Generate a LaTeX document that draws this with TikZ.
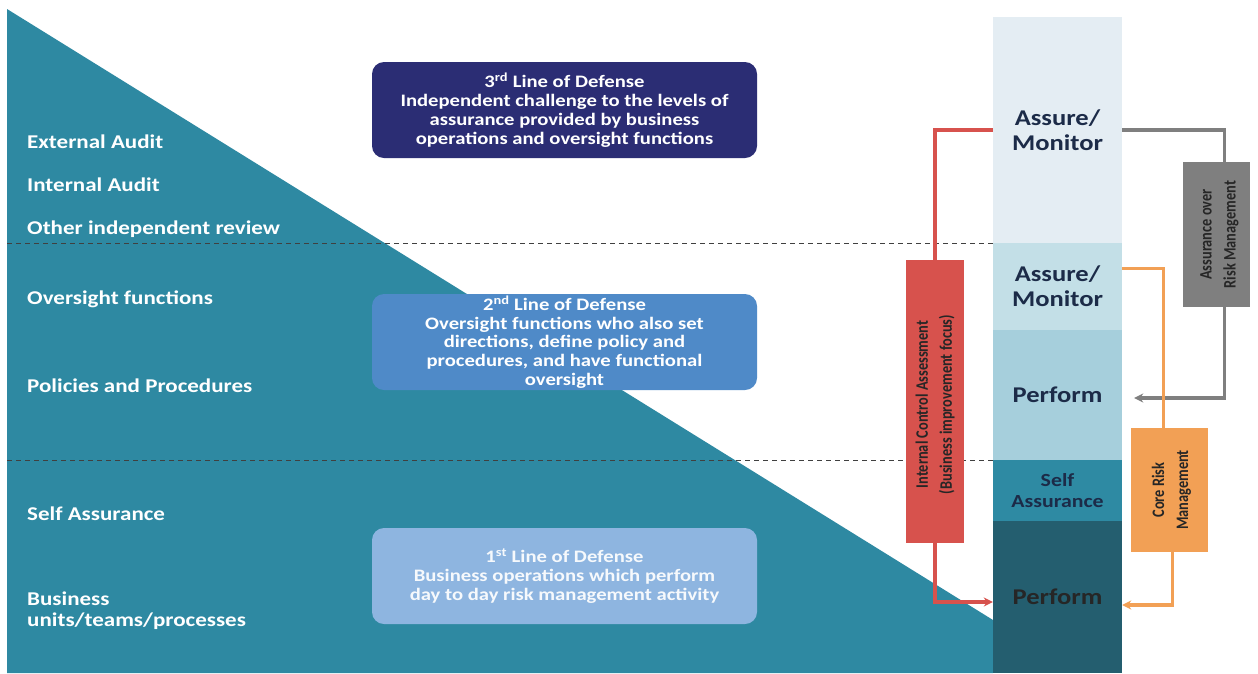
\documentclass[tikz,border=0pt]{standalone}
\usepackage{fontspec}
\setmainfont{Carlito}[FakeStretch=1.18]
\newfontfamily\rotfont{Carlito}[FakeStretch=0.82]
\usetikzlibrary{arrows.meta}
\definecolor{triC}{HTML}{2E89A2}
\definecolor{navyC}{HTML}{2B2D74}
\definecolor{midC}{HTML}{4F8AC8}
\definecolor{lightC}{HTML}{8EB5E0}
\definecolor{colA}{HTML}{E4EDF3}
\definecolor{colB}{HTML}{C3DFE7}
\definecolor{colC}{HTML}{A6CFDC}
\definecolor{colD}{HTML}{2E8AA3}
\definecolor{colE}{HTML}{245E6F}
\definecolor{colText}{HTML}{1C2B48}
\definecolor{redC}{HTML}{D7524D}
\definecolor{grayC}{HTML}{7F7F7F}
\definecolor{orgC}{HTML}{F2A055}
\tikzset{
  seg/.style={minimum width=129pt, inner sep=0pt, align=center, text=colText,
    font=\bfseries\fontsize{22.5}{25}\selectfont},
  ldbox/.style={minimum width=385pt, minimum height=96pt, rounded corners=12pt,
    align=center, text=white, inner sep=0pt, font=\bfseries\fontsize{17.5}{18.8}\selectfont},
  lefttxt/.style={anchor=west, text=white, align=left, inner sep=0pt,
    font=\bfseries\fontsize{19.5}{21}\selectfont},
  dashln/.style={draw=black!75, dash pattern=on 5pt off 4pt, line width=1pt},
  sidebox/.style={inner sep=0pt, draw=none},
  rottxt/.style={rotate=90, align=center, inner sep=0pt, text=black!85,
    font=\rotfont\bfseries\fontsize{17.5}{24}\selectfont},
  conn/.style={line width=3.2pt},
  tip/.style={-{Stealth[length=9pt,width=9pt]}}
}
\begin{document}
\begin{tikzpicture}[x=1pt,y=-1pt]
\useasboundingbox (0,0) rectangle (1258,673);
\fill[white] (0,0) rectangle (1258,673);
% triangle
\fill[triC] (7,9) -- (993,620) -- (993,673) -- (7,673) -- cycle;
% dashed separators
\coordinate (d1a) at (7,243);
\coordinate (d1b) at (993,243);
\coordinate (d2a) at (7,460);
\coordinate (d2b) at (993,460);
\draw[dashln] (d1a) -- (d1b);
\draw[dashln] (d2a) -- (d2b);
% left labels
\node[lefttxt] (la1) at (27,142) {External Audit};
\node[lefttxt] (la2) at (27,185) {Internal Audit};
\node[lefttxt] (la3) at (27,229) {Other independent review};
\node[lefttxt] (la4) at (27,299) {Oversight functions};
\node[lefttxt] (la5) at (27,386) {Policies and Procedures};
\node[lefttxt] (la6) at (27,514) {Self Assurance};
\node[lefttxt] (la7) at (27,611) {Business\\units/teams/processes};
% lines of defense boxes
\node[ldbox, fill=navyC] (l3) at (564.5,110) {3\textsuperscript{rd} Line of Defense\\Independent challenge to the levels of\\assurance provided by business\\operations and oversight functions};
\node[ldbox, fill=midC] (l2) at (564.5,342) {2\textsuperscript{nd} Line of Defense\\Oversight functions who also set\\directions, define policy and\\procedures, and have functional\\oversight};
\node[ldbox, fill=lightC, text=white!92!lightC] (l1) at (564.5,576) {1\textsuperscript{st} Line of Defense\\Business operations which perform\\day to day risk management activity};
% column
\node[seg, fill=colA, minimum height=226pt] (c1) at (1057.5,130) {Assure/\\Monitor};
\node[seg, fill=colB, minimum height=87pt] (c2) at (1057.5,286.5) {Assure/\\Monitor};
\node[seg, fill=colC, minimum height=130pt] (c3) at (1057.5,395) {Perform};
\node[seg, fill=colD, minimum height=61pt, font=\bfseries\fontsize{18.5}{21}\selectfont] (c4) at (1057.5,490.5) {Self\\Assurance};
\node[seg, fill=colE, minimum height=152pt, text=black!85] (c5) at (1057.5,597) {Perform};
% side boxes
\node[sidebox, fill=redC, minimum width=58pt, minimum height=283pt] (rbox) at (935,401.5) {};
\node[rottxt] (rtxt) at ([yshift=-3pt]rbox.center) {Internal Control Assessment\\(Business improvement focus)};
\node[sidebox, fill=grayC, minimum width=67pt, minimum height=145pt] (gbox) at (1216.5,234.5) {};
\node[rottxt] (gtxt) at ([xshift=3pt]gbox.center) {Assurance over\\Risk Management};
\node[sidebox, fill=orgC, minimum width=77pt, minimum height=124pt] (obox) at (1169.5,490) {};
\node[rottxt] (otxt) at ([xshift=2pt]obox.center) {Core Risk\\Management};
% connectors
\draw[conn, draw=redC] (rbox.north) |- (c1.west);
\draw[conn, draw=redC, tip] (rbox.south) |- ([yshift=-5pt]c5.west);
\draw[conn, draw=grayC] (c1.east) -| ([xshift=8pt]gbox.north);
\draw[conn, draw=grayC, tip] ([xshift=8pt]gbox.south) |- ([yshift=-3pt,xshift=12pt]c3.east);
\draw[conn, draw=orgC] ([yshift=18pt]c2.east) -| ([xshift=-6pt]obox.north);
\draw[conn, draw=orgC, tip] ([xshift=3pt]obox.south) |- ([yshift=-8pt]c5.east);
\end{tikzpicture}
\end{document}
